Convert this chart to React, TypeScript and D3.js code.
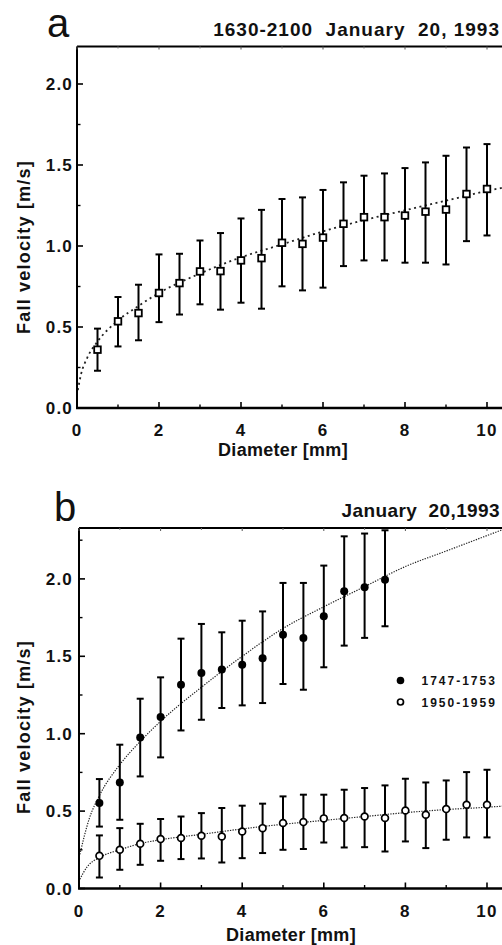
import React from 'react';
import * as d3 from 'd3';

// drop diameters (mm)
const diamA = [0.5, 1, 1.5, 2, 2.5, 3, 3.5, 4, 4.5, 5, 5.5, 6, 6.5, 7, 7.5, 8, 8.5, 9, 9.5, 10];
const diamB1 = [0.5, 1, 1.5, 2, 2.5, 3, 3.5, 4, 4.5, 5, 5.5, 6, 6.5, 7, 7.5];
const diamB2 = [0.5, 1, 1.5, 2, 2.5, 3, 3.5, 4, 4.5, 5, 5.5, 6, 6.5, 7, 7.5, 8, 8.5, 9, 9.5, 10];

// panel a: 1630-2100
const velA = [0.36, 0.535, 0.586, 0.71, 0.771, 0.843, 0.845, 0.911, 0.925, 1.02, 1.013, 1.052, 1.137, 1.178, 1.178, 1.188, 1.212, 1.225, 1.321, 1.352];
const hiA = [0.49, 0.685, 0.761, 0.948, 0.952, 1.034, 1.08, 1.17, 1.223, 1.29, 1.3, 1.346, 1.393, 1.434, 1.448, 1.481, 1.516, 1.557, 1.608, 1.629];
const loA = [0.23, 0.38, 0.418, 0.53, 0.577, 0.64, 0.607, 0.65, 0.613, 0.751, 0.726, 0.743, 0.876, 0.911, 0.911, 0.897, 0.897, 0.886, 1.03, 1.065];
const fitA: [number, number][] = [[0.02, 0.11], [0.1, 0.21], [0.25, 0.31], [0.5, 0.41], [1, 0.54], [1.5, 0.63], [2, 0.71], [3, 0.83], [4, 0.93], [5, 1.01], [6, 1.09], [7, 1.16], [8, 1.22], [9, 1.28], [10, 1.34], [10.8, 1.38]];

// panel b: 1747-1753 (filled)
const velB1 = [0.552, 0.685, 0.976, 1.108, 1.317, 1.392, 1.414, 1.446, 1.487, 1.64, 1.619, 1.758, 1.92, 1.946, 1.995];
const hiB1 = [0.707, 0.929, 1.226, 1.364, 1.614, 1.709, 1.655, 1.73, 1.79, 1.974, 1.974, 2.086, 2.275, 2.293, 2.314];
const loB1 = [0.4, 0.444, 0.724, 0.847, 1.021, 1.09, 1.166, 1.183, 1.198, 1.321, 1.284, 1.429, 1.569, 1.619, 1.694];
const fitB1: [number, number][] = [[0.02, 0.22], [0.25, 0.45], [0.5, 0.6], [1, 0.8], [1.5, 0.95], [2, 1.08], [3, 1.3], [4, 1.5], [5, 1.68], [6, 1.82], [7, 1.95], [8, 2.08], [9, 2.18], [10, 2.28], [10.8, 2.36]];

// panel b: 1950-1959 (open)
const velB2 = [0.211, 0.25, 0.289, 0.319, 0.326, 0.341, 0.336, 0.368, 0.39, 0.423, 0.429, 0.453, 0.455, 0.465, 0.455, 0.504, 0.476, 0.513, 0.541, 0.541];
const hiB2 = [0.343, 0.39, 0.418, 0.449, 0.465, 0.487, 0.52, 0.535, 0.548, 0.595, 0.606, 0.606, 0.638, 0.649, 0.666, 0.709, 0.685, 0.698, 0.752, 0.767];
const loB2 = [0.071, 0.121, 0.153, 0.179, 0.19, 0.194, 0.168, 0.196, 0.229, 0.25, 0.255, 0.297, 0.265, 0.267, 0.239, 0.304, 0.261, 0.315, 0.33, 0.33];
const fitB2: [number, number][] = [[0.02, 0.06], [0.2, 0.14], [0.5, 0.2], [1, 0.25], [1.5, 0.29], [2, 0.315], [3, 0.35], [4, 0.385], [5, 0.415], [6, 0.44], [7, 0.465], [8, 0.49], [9, 0.51], [10, 0.525], [10.8, 0.54]];

const xTicks = [0, 2, 4, 6, 8, 10];
const xMinor = [1, 3, 5, 7, 9];
const yTicks = [0, 0.5, 1, 1.5, 2];
const yMinor = [0.25, 0.75, 1.25, 1.75, 2.25];
const legendLabels = ['1747-1753', '1950-1959'];

const FONT = '"Liberation Sans", Arial, Helvetica, sans-serif';
const XMAX = 10.8;

type Series = {
  d: number[]; v: number[]; hi: number[]; lo: number[];
  marker: 'square' | 'open' | 'filled';
  fit: [number, number][]; dash: string; fitW: number;
};

type PanelProps = {
  id: string; letter: string; letterX: number; letterY: number;
  title: string; titleY: number; titleLs: number;
  left: number; pxPerMm: number; bottom: number; top: number; pxPerUnit: number;
  xLabelX: number; xLabelY: number; yLabelY: number;
  series: Series[]; legend?: boolean;
};

function Panel(p: PanelProps) {
  const x = d3.scaleLinear().domain([0, XMAX]).range([p.left, p.left + XMAX * p.pxPerMm]);
  const yMax = (p.bottom - p.top) / p.pxPerUnit;
  const y = d3.scaleLinear().domain([0, yMax]).range([p.bottom, p.top]);
  const line = d3.line<[number, number]>().x(d => x(d[0])).y(d => y(d[1])).curve(d3.curveMonotoneX);
  const right = x(XMAX);

  return (
    <g fontFamily={FONT} fontWeight="bold" fill="#111">
      <defs>
        <clipPath id={p.id}>
          <rect x={p.left} y={p.top} width={right - p.left} height={p.bottom - p.top} />
        </clipPath>
      </defs>
      <text x={p.letterX} y={p.letterY} fontSize={40} fontWeight="normal">{p.letter}</text>
      <text x={500} y={p.titleY} fontSize={19} textAnchor="end" letterSpacing={p.titleLs} style={{ whiteSpace: 'pre' }}>{p.title}</text>

      {/* fit curves */}
      <g clipPath={`url(#${p.id})`}>
        {p.series.map((s, i) => (
          <path key={i} d={line(s.fit) || ''} fill="none" stroke="#222" strokeWidth={s.fitW} strokeDasharray={s.dash} />
        ))}
      </g>

      {/* frame */}
      <line x1={p.left} x2={right} y1={p.top} y2={p.top} stroke="#000" strokeWidth={1.8} />
      <line x1={p.left} x2={p.left} y1={p.top} y2={p.bottom} stroke="#000" strokeWidth={2} />
      <line x1={p.left - 1} x2={right} y1={p.bottom} y2={p.bottom} stroke="#000" strokeWidth={2.4} />

      {/* x ticks */}
      {xTicks.map(t => (
        <g key={'x' + t}>
          <line x1={x(t)} x2={x(t)} y1={p.bottom} y2={p.bottom - 6} stroke="#000" strokeWidth={1.6} />
          <line x1={x(t)} x2={x(t)} y1={p.top} y2={p.top + 3} stroke="#555" strokeWidth={1} />
          <text x={x(t)} y={p.bottom + 28} fontSize={17} textAnchor="middle" letterSpacing={1.2}>{t}</text>
        </g>
      ))}
      {xMinor.map(t => (
        <g key={'xm' + t}>
          <line x1={x(t)} x2={x(t)} y1={p.bottom} y2={p.bottom - 3.5} stroke="#000" strokeWidth={1.4} />
          <line x1={x(t)} x2={x(t)} y1={p.top} y2={p.top + 2} stroke="#777" strokeWidth={1} />
        </g>
      ))}

      {/* y ticks */}
      {yTicks.filter(t => t <= yMax).map(t => (
        <g key={'y' + t}>
          <line x1={p.left} x2={p.left + 6} y1={y(t)} y2={y(t)} stroke="#000" strokeWidth={1.6} />
          <text x={73} y={y(t) + 6} fontSize={17} textAnchor="end" letterSpacing={1.2}>{t.toFixed(1)}</text>
        </g>
      ))}
      {yMinor.filter(t => t <= yMax).map(t => (
        <line key={'ym' + t} x1={p.left} x2={p.left + 3.5} y1={y(t)} y2={y(t)} stroke="#000" strokeWidth={1.4} />
      ))}

      {/* axis titles */}
      <text x={p.xLabelX} y={p.xLabelY} fontSize={18} textAnchor="middle" letterSpacing={0.3}>Diameter [mm]</text>
      <text transform={`translate(30,${p.yLabelY}) rotate(-90)`} fontSize={18} textAnchor="middle" letterSpacing={1.2}>Fall velocity [m/s]</text>

      {/* error bars and markers */}
      {p.series.map((s, si) => (
        <g key={'s' + si}>
          {s.d.map((d, i) => (
            <g key={i}>
              <line x1={x(d)} x2={x(d)} y1={y(s.lo[i])} y2={y(s.hi[i])} stroke="#000" strokeWidth={2} />
              <line x1={x(d) - 3.5} x2={x(d) + 3.5} y1={y(s.lo[i])} y2={y(s.lo[i])} stroke="#000" strokeWidth={2} />
              <line x1={x(d) - 3.5} x2={x(d) + 3.5} y1={y(s.hi[i])} y2={y(s.hi[i])} stroke="#000" strokeWidth={2} />
            </g>
          ))}
          {s.d.map((d, i) =>
            s.marker === 'square' ? (
              <rect key={'m' + i} x={x(d) - 3.3} y={y(s.v[i]) - 3.3} width={6.6} height={6.6} fill="#fff" stroke="#000" strokeWidth={1.8} />
            ) : s.marker === 'open' ? (
              <circle key={'m' + i} cx={x(d)} cy={y(s.v[i])} r={3.4} fill="#fff" stroke="#000" strokeWidth={1.7} />
            ) : (
              <circle key={'m' + i} cx={x(d)} cy={y(s.v[i])} r={4} fill="#000" />
            )
          )}
        </g>
      ))}

      {p.legend && (
        <g fontSize={12} letterSpacing={2}>
          <circle cx={400.5} cy={680.5} r={3.8} fill="#000" />
          <text x={421.5} y={685}>{legendLabels[0]}</text>
          <circle cx={400.5} cy={702} r={3} fill="#fff" stroke="#000" strokeWidth={1.7} />
          <text x={421.5} y={706.5}>{legendLabels[1]}</text>
        </g>
      )}
    </g>
  );
}

export default function App() {
  return (
    <svg width={502} height={945} style={{ position: 'absolute', left: 0, top: 0, background: '#fff' }}>
      <rect width={502} height={945} fill="#fff" />
      <Panel
        id="clipA" letter="a" letterX={47} letterY={36.5}
        title="1630-2100  January  20, 1993" titleY={36} titleLs={1}
        left={77} pxPerMm={41} bottom={408} top={46.5} pxPerUnit={162}
        xLabelX={283} xLabelY={456} yLabelY={247}
        series={[{ d: diamA, v: velA, hi: hiA, lo: loA, marker: 'square', fit: fitA, dash: '2 3.5', fitW: 1.8 }]}
      />
      <Panel
        id="clipB" letter="b" letterX={54} letterY={521}
        title="January  20,1993" titleY={517} titleLs={0.4}
        left={79} pxPerMm={40.8} bottom={888.5} top={528} pxPerUnit={154.8}
        xLabelX={291} xLabelY={941} yLabelY={727}
        series={[
          { d: diamB1, v: velB1, hi: hiB1, lo: loB1, marker: 'filled', fit: fitB1, dash: '1.3 1.3', fitW: 1.2 },
          { d: diamB2, v: velB2, hi: hiB2, lo: loB2, marker: 'open', fit: fitB2, dash: '1.3 1.3', fitW: 1.2 },
        ]}
        legend
      />
    </svg>
  );
}
